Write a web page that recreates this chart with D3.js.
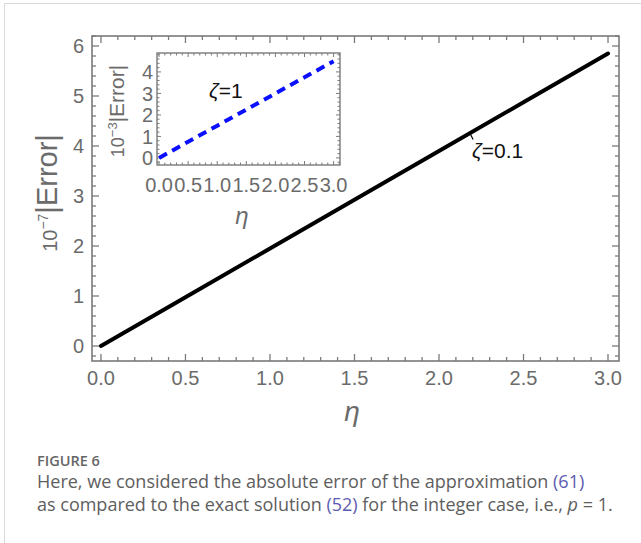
<!DOCTYPE html>
<html>
<head>
<meta charset="utf-8">
<script src="https://cdn.jsdelivr.net/npm/d3@7"></script>
<style>
  html, body { margin: 0; padding: 0; background: #fff; }
  svg { display: block; }
</style>
</head>
<body>
<svg id="fig" width="641" height="543"></svg>
<script>
// Absolute error, zeta = 0.1 (units of 1e-7)
const etaMain = [0, 0.5, 1.0, 1.5, 2.0, 2.5, 3.0];
const errMain = [0, 0.975, 1.95, 2.925, 3.9, 4.875, 5.85];
// Absolute error, zeta = 1 (units of 1e-3)
const etaInset = [0, 0.5, 1.0, 1.5, 2.0, 2.5, 3.0];
const errInset = [0, 0.75, 1.5, 2.25, 3.0, 3.75, 4.5];

const xTicksMain = [0, 0.5, 1.0, 1.5, 2.0, 2.5, 3.0];
const yTicksMain = [0, 1, 2, 3, 4, 5, 6];
const xTicksInset = [0, 0.5, 1.0, 1.5, 2.0, 2.5, 3.0];
const yTicksInset = [0, 1, 2, 3, 4];

const svg = d3.select("#fig");
const axisGray = "#7a7a7a";
const labelGray = "#6b6b6b";
const font = "'Liberation Sans', Arial, sans-serif";

// card border
svg.append("path").attr("d", "M4.5,543 V3.5 H641")
  .attr("fill", "none").attr("stroke", "#d9d9d9").attr("stroke-width", 1);

function framedPlot(g, x, y, o) {
  const [x0, x1] = x.range();
  const [y0, y1] = y.range(); // y0 bottom, y1 top
  g.append("rect").attr("x", x0).attr("y", y1).attr("width", x1 - x0).attr("height", y0 - y1)
    .attr("fill", "none").attr("stroke", axisGray).attr("stroke-width", o.frameW);

  const xd = x.domain(), yd = y.domain();
  const xMinor = d3.range(Math.ceil(xd[0] / o.xMinorStep) * o.xMinorStep, xd[1] + 1e-9, o.xMinorStep);
  const yMinor = d3.range(Math.ceil(yd[0] / o.yMinorStep) * o.yMinorStep, yd[1] + 1e-9, o.yMinorStep);
  const isMajor = (v, step) => Math.abs(v / step - Math.round(v / step)) < 1e-6;

  const tk = g.append("g").attr("stroke", axisGray).attr("stroke-width", o.tickW);
  xMinor.forEach(v => {
    const len = isMajor(v, o.xMajorStep) ? o.major : o.minor;
    const px = x(v);
    tk.append("line").attr("x1", px).attr("x2", px).attr("y1", y0).attr("y2", y0 - len);
    tk.append("line").attr("x1", px).attr("x2", px).attr("y1", y1).attr("y2", y1 + len);
  });
  yMinor.forEach(v => {
    const len = isMajor(v, o.yMajorStep) ? o.major : o.minor;
    const py = y(v);
    tk.append("line").attr("y1", py).attr("y2", py).attr("x1", x0).attr("x2", x0 + len);
    tk.append("line").attr("y1", py).attr("y2", py).attr("x1", x1).attr("x2", x1 - len);
  });

  g.append("g").selectAll("text").data(o.xTicks).join("text")
    .attr("x", d => x(d)).attr("y", y0 + o.xLabelDy)
    .attr("text-anchor", "middle").attr("font-family", font).attr("font-size", o.tickFont)
    .attr("fill", labelGray).text(d => d3.format(".1f")(d));
  g.append("g").selectAll("text").data(o.yTicks).join("text")
    .attr("x", x0 - o.yLabelDx).attr("y", d => y(d)).attr("dy", "0.36em")
    .attr("text-anchor", "end").attr("font-family", font).attr("font-size", o.tickFont)
    .attr("fill", labelGray).text(d => d);
}

// ---------- main plot ----------
const x = d3.scaleLinear().domain([-0.053, 3.065]).range([92, 619]);
const y = d3.scaleLinear().domain([-0.3, 6.2]).range([361, 36]);
const main = svg.append("g");
framedPlot(main, x, y, {
  frameW: 1.6, tickW: 1.3, major: 7, minor: 4,
  xMinorStep: 0.1, xMajorStep: 0.5, yMinorStep: 0.2, yMajorStep: 1,
  xTicks: xTicksMain, yTicks: yTicksMain, tickFont: 20, xLabelDy: 24, yLabelDx: 8
});

const line = d3.line().x(d => x(d[0])).y(d => y(d[1]));
main.append("path").datum(etaMain.map((e, i) => [e, errMain[i]]))
  .attr("d", line).attr("fill", "none").attr("stroke", "#000")
  .attr("stroke-width", 4).attr("stroke-linecap", "round");

// callout for zeta = 0.1
const cEta = 2.19, cErr = errMain[6] * cEta / etaMain[6];
main.append("path")
  .attr("d", `M${x(cEta) - 1},${y(cErr) + 1} q1,2 3,6`)
  .attr("fill", "none").attr("stroke", "#000").attr("stroke-width", 1.2);
main.append("text").attr("x", x(cEta) + 1).attr("y", y(cErr) + 26)
  .attr("font-family", font).attr("font-size", 21).attr("fill", "#111")
  .html('<tspan font-style="italic">ζ</tspan>=0.1');

// axis labels
main.append("text").attr("x", 352).attr("y", 421).attr("text-anchor", "middle")
  .attr("font-family", font).attr("font-size", 28).attr("font-style", "italic")
  .attr("fill", labelGray).text("η");
main.append("text").attr("transform", "translate(57,193) rotate(-90)")
  .attr("text-anchor", "middle").attr("font-family", font).attr("fill", labelGray)
  .html('<tspan font-size="20">10</tspan><tspan font-size="14" dy="-9">−7</tspan><tspan font-size="29" dy="9">|Error|</tspan>');

// ---------- inset ----------
const xi = d3.scaleLinear().domain([-0.035, 3.11]).range([157, 340]);
const yi = d3.scaleLinear().domain([-0.33, 4.88]).range([165, 53]);
const inset = svg.append("g");
inset.append("rect").attr("x", 157).attr("y", 53).attr("width", 183).attr("height", 112).attr("fill", "#fff");
framedPlot(inset, xi, yi, {
  frameW: 1.4, tickW: 1, major: 4, minor: 2.5,
  xMinorStep: 0.1, xMajorStep: 0.5, yMinorStep: 0.2, yMajorStep: 1,
  xTicks: xTicksInset, yTicks: yTicksInset, tickFont: 20, xLabelDy: 27, yLabelDx: 4
});
const lineI = d3.line().x(d => xi(d[0])).y(d => yi(d[1]));
inset.append("path").datum(etaInset.map((e, i) => [e, errInset[i]]))
  .attr("d", lineI).attr("fill", "none").attr("stroke", "#0a10ff")
  .attr("stroke-width", 4).attr("stroke-dasharray", "9,6");
inset.append("text").attr("x", 209).attr("y", 98)
  .attr("font-family", font).attr("font-size", 21).attr("fill", "#111")
  .html('<tspan font-style="italic">ζ</tspan>=1');
inset.append("text").attr("x", 242).attr("y", 224).attr("text-anchor", "middle")
  .attr("font-family", font).attr("font-size", 24).attr("font-style", "italic")
  .attr("fill", labelGray).text("η");
inset.append("text").attr("transform", "translate(124,111) rotate(-90)")
  .attr("text-anchor", "middle").attr("font-family", font).attr("fill", labelGray)
  .html('<tspan font-size="18">10</tspan><tspan font-size="13" dy="-7">−3</tspan><tspan font-size="21" dy="7">|Error|</tspan>');

// ---------- caption ----------
const cap = svg.append("g").attr("font-family", "'Open Sans', sans-serif").attr("fill", "#5e5e5e");
cap.append("text").attr("x", 37).attr("y", 466).attr("font-size", 14.5).attr("font-weight", 600)
  .attr("fill", "#666").text("FIGURE 6");
cap.append("text").attr("x", 37).attr("y", 488).attr("font-size", 18)
  .html('Here, we considered the absolute error of the approximation <tspan fill="#5b5bb0">(61)</tspan>');
cap.append("text").attr("x", 37).attr("y", 511).attr("font-size", 18)
  .html('as compared to the exact solution <tspan fill="#5b5bb0">(52)</tspan> for the integer case, i.e., <tspan font-style="italic">p</tspan> = 1.');
</script>
</body>
</html>
